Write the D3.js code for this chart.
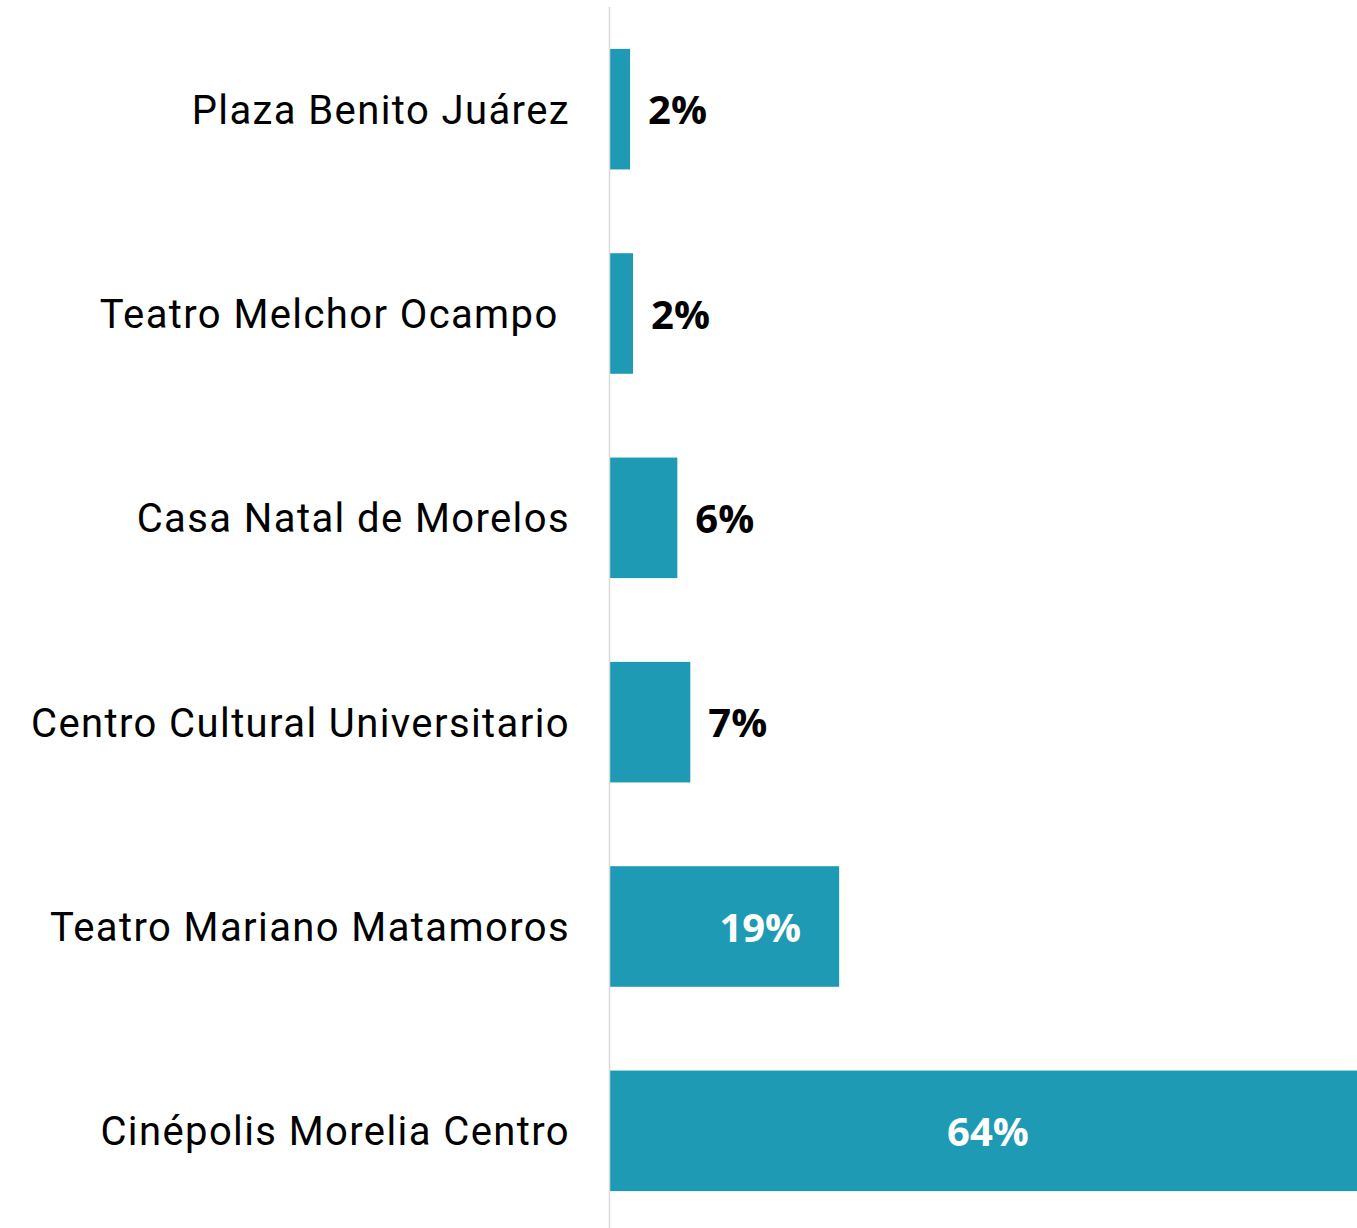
<!DOCTYPE html>
<html>
<head>
<meta charset="utf-8">
<script src="https://cdn.jsdelivr.net/npm/d3@7"></script>
<style>
  body { margin: 0; background: #fff; }
  svg { display: block; }
</style>
</head>
<body>
<div id="chart"></div>
<script>
// data
var categories = ["Plaza Benito Juárez", "Teatro Melchor Ocampo ", "Casa Natal de Morelos",
  "Centro Cultural Universitario", "Teatro Mariano Matamoros", "Cinépolis Morelia Centro"];
var values = [1.7, 1.95, 5.7, 6.8, 19.4, 64.0];
var valueLabels = ["2%", "2%", "6%", "7%", "19%", "64%"];

var width = 1357, height = 1228;
var margin = { top: 7, right: 0, bottom: 0, left: 610 };

var svg = d3.select("#chart")
  .append("svg")
  .attr("width", width)
  .attr("height", height);

// x: percent -> px (the 64% bar runs past the right edge)
var x = d3.scaleLinear()
  .domain([0, 64])
  .range([margin.left, 1366]);

var y = d3.scaleBand()
  .domain(categories)
  .range([margin.top, 1233])
  .paddingInner(0.41)
  .paddingOuter(0.205);

// bars
svg.selectAll("rect.bar")
  .data(values)
  .enter()
  .append("rect")
  .attr("class", "bar")
  .attr("x", x(0))
  .attr("y", function (d, i) { return y(categories[i]); })
  .attr("width", function (d) { return x(d) - x(0); })
  .attr("height", y.bandwidth())
  .attr("fill", "#1e9ab4");

// axis line
svg.append("line")
  .attr("x1", x(0) - 0.5).attr("x2", x(0) - 0.5)
  .attr("y1", margin.top).attr("y2", height)
  .attr("stroke", "#d9d9d9")
  .attr("stroke-width", 1.5);

// category labels
svg.selectAll("text.cat")
  .data(categories)
  .enter()
  .append("text")
  .attr("class", "cat")
  .attr("x", x(0) - 40)
  .attr("y", function (d) { return y(d) + y.bandwidth() / 2; })
  .attr("dy", "0.36em")
  .attr("text-anchor", "end")
  .style("white-space", "pre")
  .style("font-family", "Roboto, sans-serif")
  .style("font-size", "40px")
  .style("letter-spacing", "1.4px")
  .style("fill", "#000")
  .text(function (d) { return d; });

// value labels
svg.selectAll("text.val")
  .data(values)
  .enter()
  .append("text")
  .attr("class", "val")
  .attr("x", function (d) {
    if (d > 50) return (x(0) + x(d)) / 2;
    if (d > 15) return x(d) - 38;
    return x(d) + 18;
  })
  .attr("y", function (d, i) { return y(categories[i]) + y.bandwidth() / 2; })
  .attr("dy", "0.38em")
  .attr("text-anchor", function (d) { return d > 50 ? "middle" : (d > 15 ? "end" : "start"); })
  .style("font-family", "'Open Sans', sans-serif")
  .style("font-weight", "bold")
  .style("font-size", "40px")
  .style("fill", function (d) { return d > 15 ? "#fff" : "#000"; })
  .text(function (d, i) { return valueLabels[i]; });
</script>
</body>
</html>
